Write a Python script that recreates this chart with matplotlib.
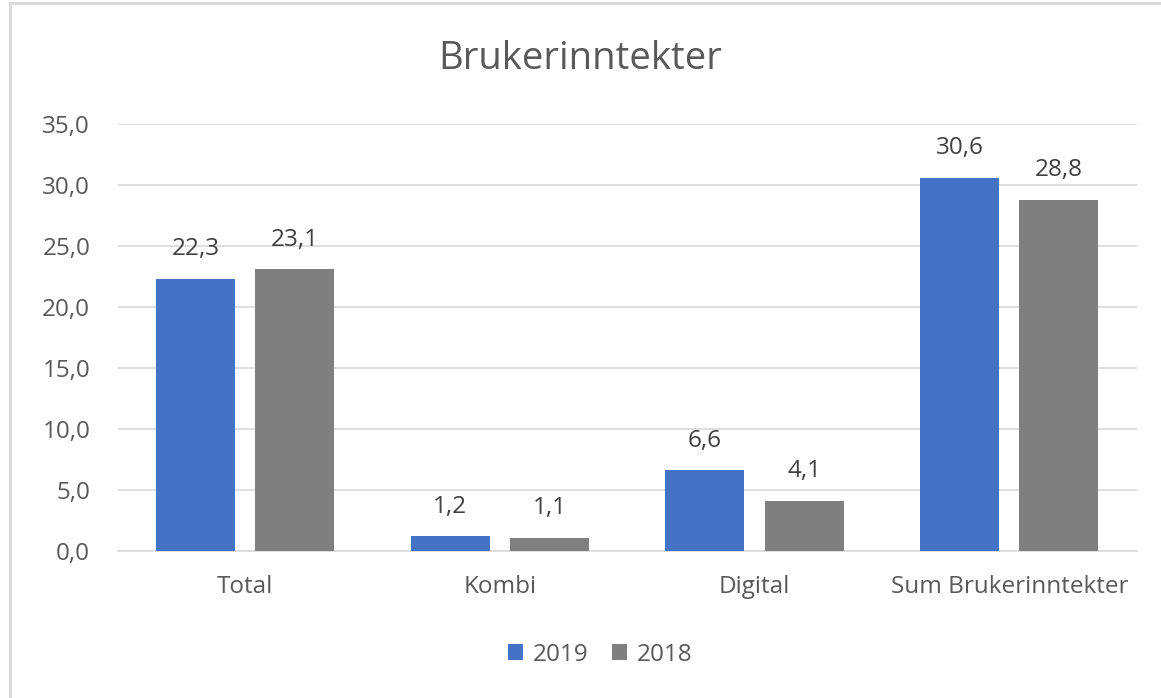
from matplotlib import pyplot as plt, ticker
from matplotlib.lines import Line2D
import numpy as np

plt.rcParams['font.family'] = ['Open Sans', 'DejaVu Sans']

categories = ["Total", "Kombi", "Digital", "Sum Brukerinntekter"]
values_2019 = [22.3, 1.2, 6.6, 30.6]
values_2018 = [23.1, 1.1, 4.1, 28.8]
series_names = ["2019", "2018"]

blue = "#4472C4"
gray = "#7F7F7F"
text_color = "#595959"


def fmt(v):
    return f"{v:.1f}".replace(".", ",")


fig = plt.figure(figsize=(11.61, 6.98), dpi=100)
ax = fig.add_axes([0.1016, 0.2106, 0.8774, 0.6117])

x = np.arange(len(categories))
width = 0.31
offset = 0.195
bars1 = ax.bar(x - offset, values_2019, width, color=blue, label=series_names[0], zorder=3)
bars2 = ax.bar(x + offset, values_2018, width, color=gray, label=series_names[1], zorder=3)

# value labels above the bars
for bars in (bars1, bars2):
    for b in bars:
        ax.annotate(fmt(b.get_height()), (b.get_x() + b.get_width() / 2, b.get_height()),
                    xytext=(0, 17), textcoords="offset points", ha="center", va="baseline",
                    fontsize=17.5, color="#404040", zorder=4)

ax.set_xlim(-0.5, len(categories) - 0.5)
ax.set_ylim(0, 35)
ax.yaxis.set_major_locator(ticker.MultipleLocator(5))
ax.yaxis.set_major_formatter(ticker.FuncFormatter(lambda v, p: fmt(v)))
ax.set_xticks(x)
ax.set_xticklabels(categories)
ax.tick_params(axis="both", length=0, labelsize=17.5, colors=text_color)
ax.tick_params(axis="y", pad=20)
ax.tick_params(axis="x", pad=17)
ax.grid(axis="y", color="#D9D9D9", linewidth=1.2, zorder=0)
for side in ("top", "right", "left"):
    ax.spines[side].set_visible(False)
ax.spines["bottom"].set_color("#D9D9D9")
ax.spines["bottom"].set_linewidth(1.2)

fig.text(0.5, 0.915, "Brukerinntekter", ha="center", va="center", fontsize=27.5, color=text_color)

fig.legend(loc="center", bbox_to_anchor=(0.517, 0.062), ncol=2, frameon=False,
           fontsize=17.5, handlelength=0.6, handleheight=0.6, handletextpad=0.4,
           columnspacing=1.0, labelcolor=text_color)

# light frame around the chart (only top and left edges are visible)
fig.add_artist(Line2D([0.009, 1.0], [0.995, 0.995], transform=fig.transFigure,
                      color="#D9D9D9", linewidth=2))
fig.add_artist(Line2D([0.009, 0.009], [0.0, 0.995], transform=fig.transFigure,
                      color="#D9D9D9", linewidth=2))

fig.savefig("out.png", dpi=100)
